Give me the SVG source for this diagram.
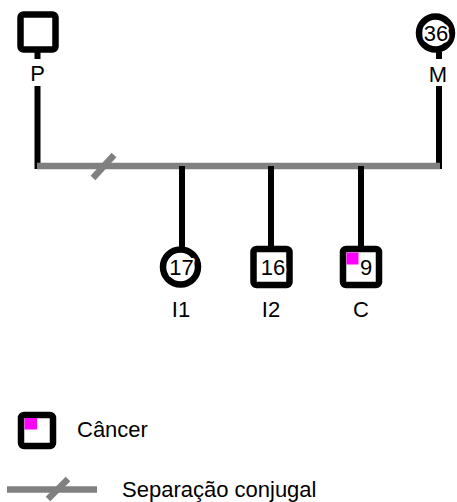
<svg xmlns="http://www.w3.org/2000/svg" width="457" height="502" viewBox="0 0 457 502">
<style>
.node{fill:#fff;stroke:#000;stroke-width:6.5}
.lbl{font-family:"Liberation Sans",Arial,sans-serif;font-size:22px;fill:#000;text-anchor:middle}
.num{font-family:"Liberation Sans",Arial,sans-serif;font-size:22px;fill:#000;text-anchor:middle;stroke:#fff;stroke-width:4;paint-order:stroke;stroke-linejoin:round}
.leg{font-family:"Liberation Sans",Arial,sans-serif;font-size:22px;fill:#000}
.blk{stroke:#000;stroke-width:6;fill:none}
.gry{stroke:#808080;stroke-width:6.5;fill:none}
.cancer{fill:#ff00ff}
</style>
<rect width="457" height="502" fill="#fff"/>
<g id="connectors">
<line class="blk" x1="37.5" y1="52" x2="37.5" y2="59"/>
<line class="blk" x1="37.5" y1="86" x2="37.5" y2="169"/>
<line class="blk" x1="439" y1="52" x2="439" y2="59"/>
<line class="blk" x1="439" y1="86" x2="439" y2="169"/>
<line class="gry" x1="37" y1="166" x2="440" y2="166"/>
<line class="gry" x1="93" y1="178" x2="114" y2="155"/>
<line class="blk" x1="182" y1="166" x2="182" y2="250"/>
<line class="blk" x1="271" y1="166" x2="271" y2="250"/>
<line class="blk" x1="361" y1="166" x2="361" y2="250"/>
</g>
<g id="node-P">
<rect class="node" x="20.5" y="14.5" width="35" height="35" rx="3"/>
<text class="lbl" x="37.5" y="81">P</text>
</g>
<g id="node-M">
<circle class="node" cx="435.5" cy="33" r="16.5"/>
<text class="num" x="436" y="41">36</text>
<text class="lbl" x="438" y="82">M</text>
</g>
<g id="node-I1">
<circle class="node" cx="180.5" cy="267" r="17.5"/>
<text class="num" x="181.5" y="275">17</text>
<text class="lbl" x="181" y="317">I1</text>
</g>
<g id="node-I2">
<rect class="node" x="253.5" y="249" width="36" height="36" rx="3"/>
<text class="num" x="273" y="275">16</text>
<text class="lbl" x="271" y="317">I2</text>
</g>
<g id="node-C">
<rect class="node" x="343" y="249" width="36" height="36" rx="3"/>
<rect class="cancer" x="346.5" y="252.5" width="12" height="12"/>
<text class="num" x="366" y="275">9</text>
<text class="lbl" x="361" y="317">C</text>
</g>
<g id="legend">
<rect class="node" x="21" y="415" width="32" height="31" rx="3"/>
<rect class="cancer" x="24.5" y="418" width="12.5" height="11.5"/>
<text class="leg" x="77" y="437">Câncer</text>
<line class="gry" x1="7" y1="489.5" x2="97" y2="489.5"/>
<line class="gry" x1="48" y1="499" x2="68" y2="479"/>
<text class="leg" x="122" y="497">Separação conjugal</text>
</g>
</svg>
